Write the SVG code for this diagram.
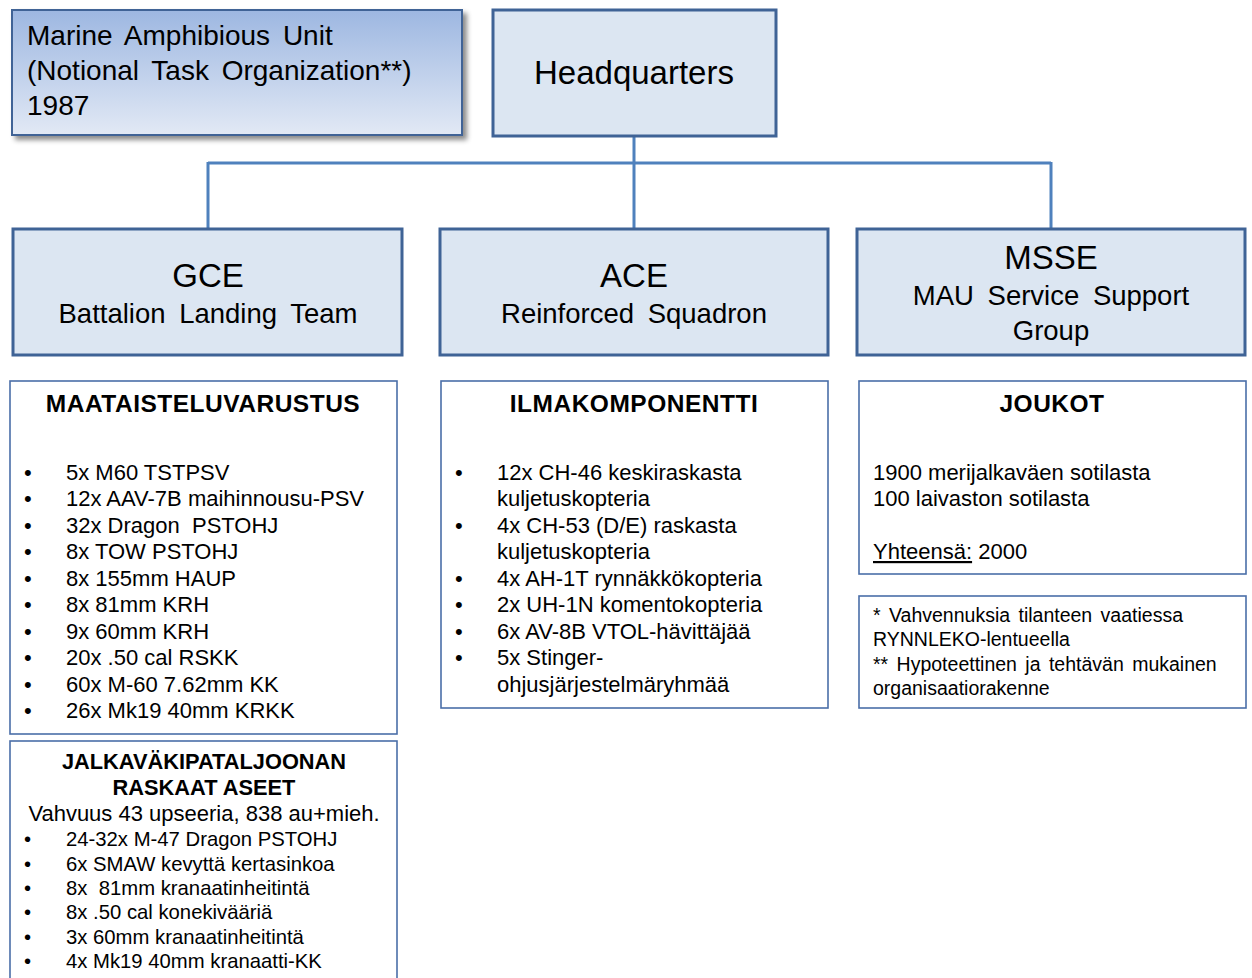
<svg xmlns="http://www.w3.org/2000/svg" width="1252" height="978" viewBox="0 0 1252 978">
<style>
text{font-family:"Liberation Sans",Arial,sans-serif;fill:#000}
.node{fill:#dce6f2;stroke:#3f6396;stroke-width:3}
.box{fill:#fff;stroke:#4a6ea8;stroke-width:1.6}
.conn{stroke:#4f81bd;stroke-width:3;fill:none}
.t1{font-size:28px;word-spacing:5px}
.big{font-size:33px}
.sub{font-size:27.5px;word-spacing:6px}
.hd{font-size:24.5px;font-weight:bold;letter-spacing:0.5px}
.hd2{font-size:21.8px;font-weight:bold}
.li{font-size:22px}
.li2{font-size:20.3px}
.fn{font-size:19.5px;word-spacing:3px}
.pre{white-space:pre}
</style>
<defs>
<linearGradient id="g1" x1="0" y1="0" x2="0" y2="1">
<stop offset="0" stop-color="#9db7e1"/>
<stop offset="1" stop-color="#e2e9f5"/>
</linearGradient>
<filter id="sh" x="-5%" y="-5%" width="115%" height="125%">
<feDropShadow dx="4" dy="4" stdDeviation="2.5" flood-color="#000" flood-opacity="0.45"/>
</filter>
</defs>
<g id="connectors">
<path class="conn" d="M634 136V229M208 163H1051M208 162V229M1051 162V229"/>
</g>
<g id="title">
<rect x="12" y="10" width="450" height="125" fill="url(#g1)" stroke="#3f6396" stroke-width="2" filter="url(#sh)"/>
<text class="t1" x="27" y="45">Marine Amphibious Unit</text>
<text class="t1" x="27" y="80">(Notional Task Organization**)</text>
<text class="t1" x="27" y="115">1987</text>
</g>
<g id="hq">
<rect class="node" x="493" y="10" width="283" height="126"/>
<text class="big" x="634" y="84" text-anchor="middle">Headquarters</text>
</g>
<g id="gce">
<rect class="node" x="13" y="229" width="389" height="126"/>
<text class="big" x="208" y="287" text-anchor="middle">GCE</text>
<text class="sub" x="208" y="323" text-anchor="middle">Battalion Landing Team</text>
</g>
<g id="ace">
<rect class="node" x="440" y="229" width="388" height="126"/>
<text class="big" x="634" y="287" text-anchor="middle">ACE</text>
<text class="sub" x="634" y="323" text-anchor="middle">Reinforced Squadron</text>
</g>
<g id="msse">
<rect class="node" x="857" y="229" width="388" height="126"/>
<text class="big" x="1051" y="269" text-anchor="middle">MSSE</text>
<text class="sub" x="1051" y="305" text-anchor="middle">MAU Service Support</text>
<text class="sub" x="1051" y="340" text-anchor="middle">Group</text>
</g>
<g id="gce-list">
<rect class="box" x="10" y="381" width="387" height="353"/>
<text class="hd" x="203" y="412" text-anchor="middle">MAATAISTELUVARUSTUS</text>
<g class="li">
<text x="24" y="480">•</text><text x="66" y="480">5x M60 TSTPSV</text>
<text x="24" y="506">•</text><text x="66" y="506">12x AAV-7B maihinnousu-PSV</text>
<text x="24" y="533">•</text><text class="pre" x="66" y="533">32x Dragon  PSTOHJ</text>
<text x="24" y="559">•</text><text x="66" y="559">8x TOW PSTOHJ</text>
<text x="24" y="586">•</text><text x="66" y="586">8x 155mm HAUP</text>
<text x="24" y="612">•</text><text x="66" y="612">8x 81mm KRH</text>
<text x="24" y="639">•</text><text x="66" y="639">9x 60mm KRH</text>
<text x="24" y="665">•</text><text x="66" y="665">20x .50 cal RSKK</text>
<text x="24" y="692">•</text><text x="66" y="692">60x M-60 7.62mm KK</text>
<text x="24" y="718">•</text><text x="66" y="718">26x Mk19 40mm KRKK</text>
</g>
</g>
<g id="jalka">
<rect class="box" x="10" y="741" width="387" height="250"/>
<text class="hd2" x="204" y="769" text-anchor="middle">JALKAVÄKIPATALJOONAN</text>
<text class="hd2" x="204" y="795" text-anchor="middle">RASKAAT ASEET</text>
<text class="li" x="204" y="821" text-anchor="middle">Vahvuus 43 upseeria, 838 au+mieh.</text>
<g class="li2">
<text x="24" y="846">•</text><text x="66" y="846">24-32x M-47 Dragon PSTOHJ</text>
<text x="24" y="871">•</text><text x="66" y="871">6x SMAW kevyttä kertasinkoa</text>
<text x="24" y="895">•</text><text class="pre" x="66" y="895">8x  81mm kranaatinheitintä</text>
<text x="24" y="919">•</text><text x="66" y="919">8x .50 cal konekivääriä</text>
<text x="24" y="944">•</text><text x="66" y="944">3x 60mm kranaatinheitintä</text>
<text x="24" y="968">•</text><text x="66" y="968">4x Mk19 40mm kranaatti-KK</text>
</g>
</g>
<g id="ace-list">
<rect class="box" x="441" y="381" width="387" height="327"/>
<text class="hd" x="634" y="412" text-anchor="middle">ILMAKOMPONENTTI</text>
<g class="li">
<text x="455" y="480">•</text><text x="497" y="480">12x CH-46 keskiraskasta</text>
<text x="497" y="506">kuljetuskopteria</text>
<text x="455" y="533">•</text><text x="497" y="533">4x CH-53 (D/E) raskasta</text>
<text x="497" y="559">kuljetuskopteria</text>
<text x="455" y="586">•</text><text x="497" y="586">4x AH-1T rynnäkkökopteria</text>
<text x="455" y="612">•</text><text x="497" y="612">2x UH-1N komentokopteria</text>
<text x="455" y="639">•</text><text x="497" y="639">6x AV-8B VTOL-hävittäjää</text>
<text x="455" y="665">•</text><text x="497" y="665">5x Stinger-</text>
<text x="497" y="692">ohjusjärjestelmäryhmää</text>
</g>
</g>
<g id="joukot">
<rect class="box" x="859" y="381" width="387" height="193"/>
<text class="hd" x="1052" y="412" text-anchor="middle">JOUKOT</text>
<g class="li">
<text x="873" y="480">1900 merijalkaväen sotilasta</text>
<text x="873" y="506">100 laivaston sotilasta</text>
<text x="873" y="559"><tspan text-decoration="underline">Yhteensä:</tspan> 2000</text>
</g>
</g>
<g id="notes">
<rect class="box" x="859" y="596" width="387" height="112"/>
<g class="fn">
<text x="873" y="622">* Vahvennuksia tilanteen vaatiessa</text>
<text x="873" y="646">RYNNLEKO-lentueella</text>
<text x="873" y="671">** Hypoteettinen ja tehtävän mukainen</text>
<text x="873" y="695">organisaatiorakenne</text>
</g>
</g>
</svg>
